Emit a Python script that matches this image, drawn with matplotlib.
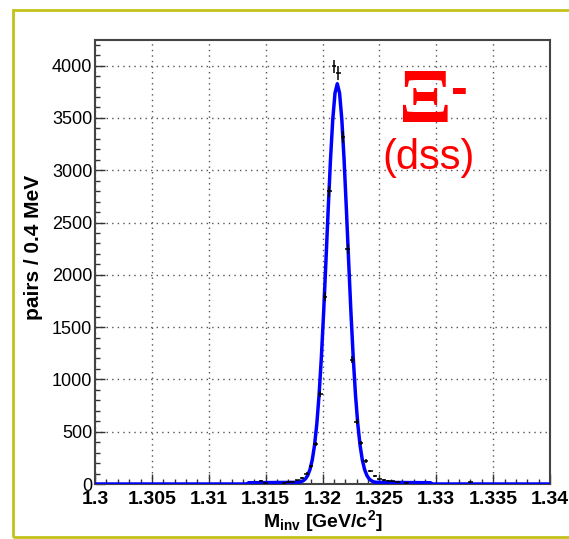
import numpy as np
import matplotlib
matplotlib.use("Agg")
import matplotlib.pyplot as plt
from matplotlib.patches import Rectangle
from matplotlib.ticker import MultipleLocator, FixedLocator, FixedFormatter

plt.rcParams['font.family'] = ['Liberation Sans', 'DejaVu Sans']
plt.rcParams['mathtext.fontset'] = 'custom'
plt.rcParams['mathtext.rm'] = 'Liberation Sans'
plt.rcParams['mathtext.bf'] = 'Liberation Sans:bold'

# data points (0.4 MeV bins), invariant mass in GeV/c^2
bin_centers = [1.3146, 1.3150, 1.3166, 1.3170, 1.3174, 1.3178, 1.3182, 1.3186,
               1.3190, 1.3194, 1.3198, 1.3202, 1.3206, 1.3210, 1.3214, 1.3218,
               1.3222, 1.3226, 1.3230, 1.3234, 1.3238, 1.3242, 1.3246, 1.3250,
               1.3254, 1.3258, 1.3262, 1.3266, 1.3274, 1.3330]
counts = [30, 10, 12, 15, 22, 35, 58, 100,
          170, 380, 860, 1790, 2800, 3995, 3930, 3318,
          2250, 1190, 596, 390, 220, 127, 76, 45,
          38, 32, 25, 20, 14, 16]

# fitted curve (blue)
fit_x = [1.3000, 1.3134, 1.3135, 1.3179, 1.3181, 1.3183, 1.3185, 1.3187, 1.3189,
         1.3191, 1.3193, 1.3195, 1.3197, 1.3199, 1.3201, 1.3203, 1.3205,
         1.3207, 1.3209, 1.3211, 1.3213, 1.3215, 1.3217, 1.3219, 1.3221,
         1.3223, 1.3225, 1.3227, 1.3229, 1.3231, 1.3233, 1.3235, 1.3237,
         1.3239, 1.3241, 1.3243, 1.3245, 1.3247, 1.3295, 1.3296, 1.3400]
fit_y = [0, 0, 12, 16, 21, 31, 49, 82, 139,
         231, 371, 575, 853, 1211, 1641, 2125, 2626,
         3096, 3483, 3738, 3827, 3738, 3483, 3096, 2626,
         2125, 1641, 1211, 853, 575, 371, 231, 139,
         82, 49, 31, 21, 16, 12, 0, 0]

x_ticks = [1.3, 1.305, 1.31, 1.315, 1.32, 1.325, 1.33, 1.335, 1.34]
x_labels = ['1.3', '1.305', '1.31', '1.315', '1.32', '1.325', '1.33', '1.335', '1.34']
y_ticks = [0, 500, 1000, 1500, 2000, 2500, 3000, 3500, 4000]

fig = plt.figure(figsize=(5.69, 5.39), dpi=100)
ax = fig.add_axes([0.16696, 0.10204, 0.79965, 0.82375])

# outer frame
fig.patches.append(Rectangle((12.7 / 569, 2 / 539), 1.0, 1 - 12 / 539,
                             transform=fig.transFigure, fill=False,
                             edgecolor='#c2c21a', linewidth=2))

ax.plot(fit_x, fit_y, color='#0000ff', lw=2.5, zorder=3)
ax.errorbar(bin_centers, counts, xerr=0.0002, yerr=np.sqrt(counts),
            fmt='none', ecolor='black', elinewidth=1.1, capsize=0, zorder=4)

ax.set_xlim(1.3, 1.34)
ax.set_ylim(0, 4245)

ax.xaxis.set_major_locator(FixedLocator(x_ticks))
ax.xaxis.set_major_formatter(FixedFormatter(x_labels))
ax.xaxis.set_minor_locator(MultipleLocator(0.001))
ax.yaxis.set_major_locator(FixedLocator(y_ticks))
ax.yaxis.set_minor_locator(MultipleLocator(100))

ax.tick_params(which='both', direction='in', top=False, right=False)
ax.tick_params(which='major', length=7.5, width=1, color='#333333')
ax.tick_params(which='minor', length=3.8, width=1, color='#333333')
ax.tick_params(axis='y', labelsize=13, pad=2)
ax.tick_params(axis='x', labelsize=14, pad=5)
for lab in ax.get_xticklabels():
    lab.set_fontweight('bold')

ax.grid(True, which='major', color='#555555', linestyle=(0, (1, 3)), lw=1)
for s in ax.spines.values():
    s.set_color('#444444')
    s.set_linewidth(1.5)

ax.set_ylabel('pairs / 0.4 MeV', fontsize=15, fontweight='bold')
ax.yaxis.set_label_coords(-0.115, 0.533)
ax.set_xlabel(r'$\mathbf{M_{inv}}$ [GeV/c$^{\mathbf{2}}$]', fontsize=14, fontweight='bold')
ax.xaxis.set_label_coords(0.5, -0.055)

# particle label
fig.text(425.5 / 569, 1 - 104 / 539, '\u039e', color='#ff0000', fontsize=56,
         family='Liberation Serif', fontweight='bold', ha='center', va='center')
fig.text(459 / 569, 1 - 91 / 539, '-', color='#ff0000', fontsize=36,
         fontweight='bold', ha='center', va='center')
fig.text(428.5 / 569, 1 - 158 / 539, '(dss)', color='#ff0000', fontsize=30,
         ha='center', va='center')

fig.savefig('out.png', dpi=100)
